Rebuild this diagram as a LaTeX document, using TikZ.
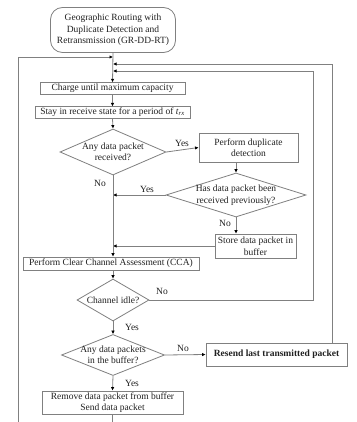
\documentclass[tikz,border=0pt]{standalone}
\usepackage{fontspec}
\setmainfont{Liberation Serif}
\usetikzlibrary{shapes.geometric,arrows.meta}
\definecolor{linegray}{HTML}{808080}
\definecolor{txt}{HTML}{202020}
\tikzset{
  box/.style={draw=linegray, line width=0.8pt, rectangle, inner sep=0pt, align=center, text=txt, font=\fontsize{9.5}{11.5}\selectfont},
  dia/.style={draw=linegray, line width=0.8pt, diamond, inner sep=0pt},
  dtext/.style={align=center, text=txt, font=\fontsize{9.5}{11.5}\selectfont},
  lbl/.style={text=txt, font=\fontsize{9.5}{11.5}\selectfont, inner sep=0pt},
  conn/.style={draw=linegray, line width=0.8pt},
  arr/.style={conn, -{Latex[length=3.5pt,width=3.5pt,color=black]}},
}
\begin{document}
\begin{tikzpicture}[x=1pt,y=-1pt]
\useasboundingbox (0,0) rectangle (356,422);
\clip (0,0) rectangle (356,422);
\fill[white] (0,0) rectangle (356,422);

\node[box, rounded corners=12pt, minimum width=125pt, minimum height=45pt] (start) at (113,30)
  {Geographic Routing with\\Duplicate Detection and\\Retransmission (GR-DD-RT)};
\node[box, minimum width=145pt, minimum height=11.5pt] (charge) at (112.5,88.5) {Charge until maximum capacity};
\node[box, minimum width=155pt, minimum height=11.5pt] (stay) at (112.5,112.5) {Stay in receive state for a period of \textit{t}\textsubscript{\textit{rx}}};
\node[dia, minimum width=106pt, minimum height=46pt, label={[dtext]center:Any data packet\\received?}] (d1) at (113,152) {};
\node[box, minimum width=99pt, minimum height=29pt] (dup) at (248.5,147.5) {Perform duplicate\\detection};
\node[dia, minimum width=140pt, minimum height=44pt, label={[dtext]center:Has data packet been\\received previously?}] (d2) at (236,195) {};
\node[box, minimum width=81pt, minimum height=24pt] (store) at (255.5,246) {Store data packet in\\buffer};
\node[box, minimum width=176pt, minimum height=13pt] (cca) at (111,263.5) {Perform Clear Channel Assessment (CCA)};
\node[dia, minimum width=72pt, minimum height=42pt, label={[dtext]center:Channel idle?}] (ci) at (113,300) {};
\node[dia, minimum width=103pt, minimum height=41pt, label={[dtext]center:Any data packets\\in the buffer?}] (d3) at (113,355) {};
\node[box, minimum width=141pt, minimum height=23pt, font=\fontsize{9.5}{11.5}\selectfont\bfseries] (resend) at (276.5,354.5) {Resend last transmitted packet};
\node[box, minimum width=141pt, minimum height=23pt] (remove) at (112.5,402.5) {Remove data packet from buffer\\Send data packet};

\coordinate (j1) at (113,57);
\coordinate (j2) at (113,64);
\coordinate (j3) at (113,71);
\coordinate (j4) at (113,195);
\coordinate (j5) at (113,246);
\coordinate (bl) at (18,440);
\coordinate (rr) at (332,64);
\coordinate (cr) at (313,71);

\draw[arr] (start.south) -- (charge.north);
\draw[arr] (remove.south) -- (remove.south |- bl) -- (bl) -- (bl |- j1) -- (j1);
\draw[arr] (resend.north -| rr) -- (rr) -- (j2);
\draw[arr] (ci.east) -- (ci.east -| cr) -- (cr) -- (j3);
\draw[arr] (charge.south) -- (stay.north);
\draw[arr] (stay.south) -- (d1.north);
\draw[arr] (d1.east) -- (dup.west);
\draw[arr] (dup.south -| d2.north) -- (d2.north);
\draw[arr] (d2.west) -- (j4);
\draw[arr] (d2.south) -- (d2.south |- store.north);
\draw[arr] (store.west) -- (j5);
\draw[arr] (d1.south) -- (cca.north -| d1.south);
\draw[arr] (cca.south -| ci.north) -- (ci.north);
\draw[arr] (ci.south) -- (d3.north);
\draw[arr] (d3.east) -- (resend.west);
\draw[arr] (d3.south) -- (remove.north);

\node[lbl] (l1) at (182,143) {Yes};
\node[lbl] (l2) at (100,183) {No};
\node[lbl] (l3) at (147,189) {Yes};
\node[lbl] (l4) at (225,223) {No};
\node[lbl] (l5) at (162,291) {No};
\node[lbl] (l6) at (132,327) {Yes};
\node[lbl] (l7) at (183,348) {No};
\node[lbl] (l8) at (132,383) {Yes};
\end{tikzpicture}
\end{document}
